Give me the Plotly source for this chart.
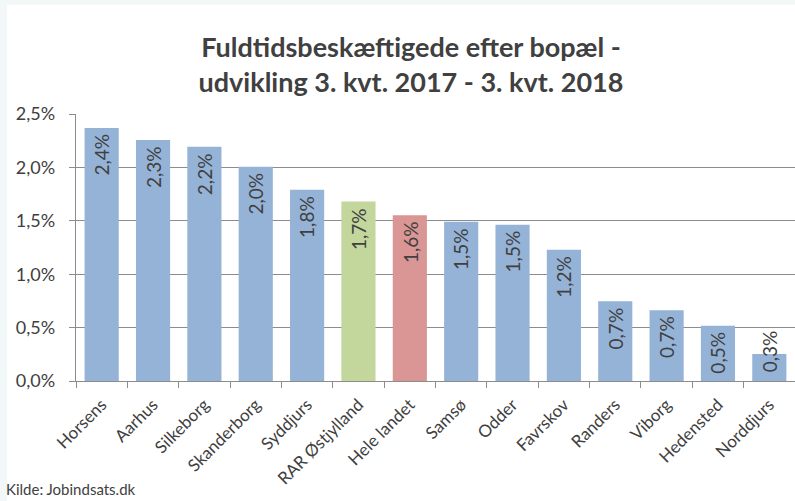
import plotly.graph_objects as go

categories = ["Horsens", "Aarhus", "Silkeborg", "Skanderborg", "Syddjurs", "RAR Østjylland",
              "Hele landet", "Samsø", "Odder", "Favrskov", "Randers", "Viborg", "Hedensted", "Norddjurs"]
values = [2.37, 2.256, 2.193, 2.006, 1.79, 1.68, 1.552, 1.49, 1.462, 1.228, 0.747, 0.662, 0.518, 0.252]
bar_colors = ["#95b3d7"] * 5 + ["#c3d69b", "#d99694"] + ["#95b3d7"] * 7
y_ticks = [0, 0.5, 1.0, 1.5, 2.0, 2.5]
y_tick_labels = ["0,0%", "0,5%", "1,0%", "1,5%", "2,0%", "2,5%"]
title_text = "Fuldtidsbeskæftigede efter bopæl -<br>udvikling 3. kvt. 2017 - 3. kvt. 2018"
source_text = "Kilde: Jobindsats.dk"

TXT = "#404040"
GRID = "#8c8c8c"
FONT = "Lato"

fig = go.Figure(go.Bar(x=categories, y=values, marker=dict(color=bar_colors, line=dict(width=0)),
                       hoverinfo="x+y"))

# value labels (rotated, inside end)
for c, v in zip(categories, values):
    lbl = f"{v:.1f}".replace(".", ",") + "%"
    if v > 0.45:
        fig.add_annotation(x=c, y=v, text=lbl, textangle=-90, yanchor="top", yshift=-4,
                           showarrow=False, font=dict(family=FONT, size=19, color=TXT))
    else:
        fig.add_annotation(x=c, y=0, text=lbl, textangle=-90, yanchor="bottom", yshift=7,
                           showarrow=False, font=dict(family=FONT, size=19, color=TXT))

L, R, T, B = 76, 0, 114, 120
W, H = 795, 501
pw, ph = W - L - R, H - T - B

# white chart area over light frame
fig.add_shape(type="rect", xref="paper", yref="paper",
              x0=(7 - L) / pw, x1=1.02, y0=-(B + 5) / ph, y1=(H - B - 5) / ph,
              fillcolor="white", line=dict(width=0), layer="below")

fig.add_annotation(xref="paper", yref="paper", x=(4 - L) / pw, y=-(B - 1) / ph,
                   xanchor="left", yanchor="bottom", text=source_text, showarrow=False,
                   font=dict(family=FONT, size=15, color=TXT))

fig.update_layout(
    width=W, height=H,
    margin=dict(l=L, r=R, t=T, b=B, autoexpand=False),
    paper_bgcolor="#f2f7f7",
    plot_bgcolor="rgba(0,0,0,0)",
    bargap=0.335,
    showlegend=False,
    title=dict(text=title_text, x=411 / W, xanchor="center", y=1 - 57 / H, yanchor="top",
               font=dict(family=FONT, size=27, color=TXT, weight="bold")),
    font=dict(family=FONT, color=TXT),
)
fig.update_xaxes(type="category", tickangle=-45, tickson="boundaries", ticks="outside",
                 ticklen=6, tickcolor=GRID, tickwidth=1.3, automargin=False,
                 showline=True, linecolor=GRID, linewidth=1.3, ticklabelstandoff=6,
                 tickfont=dict(family=FONT, size=17, color=TXT), showgrid=False)
fig.update_yaxes(range=[0, 2.5], tickvals=y_ticks, ticktext=y_tick_labels, automargin=False,
                 ticks="outside", ticklen=6, tickcolor=GRID, tickwidth=1.3,
                 showline=True, linecolor=GRID, linewidth=1.3,
                 showgrid=True, gridcolor=GRID, gridwidth=1.3, zeroline=False,
                 ticklabelstandoff=10,
                 tickfont=dict(family=FONT, size=18, color=TXT))

fig.write_html("out.html", config={"displayModeBar": False},
               post_script="document.body.style.margin='0';document.body.style.background='#f2f7f7';")
